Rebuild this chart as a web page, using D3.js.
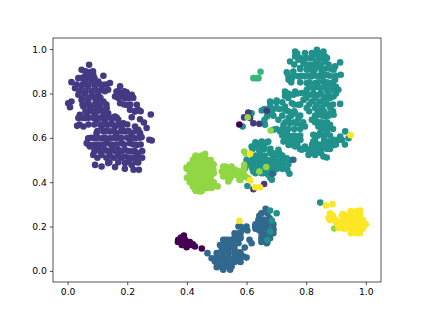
<!DOCTYPE html>
<html>
<head>
<meta charset="utf-8">
<script src="https://cdn.jsdelivr.net/npm/d3@7"></script>
<style>
  body { margin: 0; background: #fff; }
  svg { display: block; }
</style>
</head>
<body>
<svg width="423" height="317"></svg>
<script>
var xTicks = [0, 0.2, 0.4, 0.6, 0.8, 1.0]
var yTicks = [0, 0.2, 0.4, 0.6, 0.8, 1.0]

var indigo = [
  [.072,.929],[.047,.907],[.075,.895],[.058,.877],[.086,.884],
  [.013,.851],[.036,.869],[.058,.854],[.081,.862],[.103,.854],[.120,.880],[.142,.847],[.120,.839],
  [.025,.824],[.047,.832],[.069,.832],[.092,.824],[.114,.817],[.136,.817],[.176,.832],[.164,.809],[.198,.805],[.215,.794],
  [.036,.794],[.058,.802],[.081,.794],[.103,.794],[.159,.786],[.181,.794],[.204,.779],
  [.002,.756],[.013,.764],[.047,.771],[.069,.764],[.097,.764],[.120,.764],[.176,.756],[.198,.749],[.232,.749],
  [.008,.738],[.053,.741],[.075,.734],[.097,.734],[.114,.726],[.131,.734],[.209,.726],[.237,.726],[.226,.719],
  [.041,.704],[.064,.711],[.092,.704],[.120,.704],[.136,.711],[.159,.696],[.215,.693],[.279,.705],
  [.036,.689],[.058,.689],[.097,.681],[.125,.678],[.148,.684],[.170,.681],[.187,.666],[.243,.684],[.256,.669],
  [.032,.654],[.053,.651],[.114,.651],[.136,.659],[.159,.651],[.181,.644],[.226,.651],[.265,.644],[.237,.636],
  [.097,.621],[.120,.629],[.142,.629],[.164,.621],[.192,.629],[.215,.621],[.243,.621],
  [.069,.598],[.092,.598],[.114,.598],[.142,.598],[.164,.598],[.209,.598],[.226,.598],[.248,.603],[.274,.591],[.282,.588],
  [.064,.576],[.086,.568],[.108,.568],[.131,.576],[.153,.568],[.181,.576],[.209,.576],[.232,.568],
  [.075,.561],[.097,.546],[.125,.546],[.148,.546],[.170,.546],[.192,.546],[.215,.538],[.232,.531],
  [.086,.523],[.114,.523],[.142,.519],[.170,.519],[.192,.516],[.215,.508],[.237,.516],
  [.092,.478],[.114,.471],[.136,.486],[.159,.468],[.192,.486],[.215,.478],[.237,.489],[.192,.460],[.221,.456],[.239,.456],
  [.06,.90],[.085,.90],[.045,.87],[.07,.87],[.09,.87],
  [.03,.84],[.05,.84],[.07,.84],[.09,.84],[.11,.84],[.13,.84],
  [.04,.81],[.06,.81],[.08,.81],[.10,.81],[.125,.81],[.17,.81],[.19,.81],
  [.05,.78],[.07,.78],[.09,.78],[.11,.78],[.17,.78],[.19,.78],[.22,.78],
  [.05,.75],[.07,.75],[.09,.75],[.11,.75],[.13,.75],[.19,.75],[.21,.75],
  [.06,.72],[.08,.72],[.10,.72],[.125,.72],[.225,.72],[.245,.72],
  [.05,.69],[.07,.69],[.085,.69],[.11,.69],[.13,.69],[.15,.69],[.165,.69],
  [.04,.66],[.07,.66],[.09,.66],[.11,.66],[.13,.66],[.15,.66],[.17,.66],[.20,.66],
  [.10,.63],[.13,.63],[.155,.63],[.18,.63],[.205,.63],[.23,.63],
  [.08,.60],[.10,.60],[.125,.60],[.155,.60],[.18,.60],[.20,.60],[.24,.60],
  [.07,.57],[.10,.57],[.12,.57],[.145,.57],[.165,.57],[.19,.57],[.22,.57],[.245,.57],
  [.09,.54],[.11,.54],[.135,.54],[.16,.54],[.18,.54],[.205,.54],[.225,.54],[.25,.54],
  [.10,.51],[.13,.51],[.155,.51],[.18,.51],[.205,.51],[.225,.51],[.25,.51],
  [.14,.49],[.17,.49],[.205,.49],[.23,.49]
]

var blue = [
  [.469,.080],[.483,.057],[.664,.280],[.643,.248],[.522,.140],[.539,.140],[.511,.117],[.528,.117],[.550,.117],
  [.517,.095],[.539,.095],[.573,.200],[.590,.188],[.603,.182],[.573,.170],[.579,.147],[.562,.132],[.573,.125],
  [.610,.140],[.617,.125],[.594,.105],[.578,.084],[.567,.065],[.590,.065],[.578,.042],[.494,.042],[.511,.057],
  [.534,.057],[.556,.050],[.500,.017],[.522,.027],[.545,.020],[.522,.005],[.545,.005],[.629,.200],[.645,.208],
  [.662,.215],[.679,.215],[.640,.185],[.662,.192],[.690,.182],[.657,.162],[.679,.147],[.651,.140],[.668,.125],
  [.677,.238],[.657,.230],
  [.53,.14],[.55,.14],[.52,.12],[.54,.12],[.56,.12],[.52,.10],[.54,.10],[.56,.10],
  [.50,.08],[.52,.08],[.54,.08],[.56,.08],[.58,.08],[.50,.06],[.52,.06],[.54,.06],[.56,.06],[.58,.06],[.60,.06],
  [.50,.04],[.52,.04],[.54,.04],[.56,.04],[.58,.04],[.51,.02],[.53,.02],[.55,.02],
  [.58,.20],[.60,.20],[.56,.17],[.58,.17],[.56,.15],[.58,.15],
  [.64,.23],[.66,.23],[.68,.23],[.63,.21],[.65,.21],[.67,.21],[.69,.21],[.63,.19],[.65,.19],[.67,.19],[.69,.19],
  [.65,.17],[.67,.17],[.69,.17],[.65,.15],[.67,.15],[.66,.15],[.65,.13],[.67,.13],[.65,.26],[.67,.26]
]

var purple = [
  [.390,.159],[.371,.140],[.383,.132],[.394,.140],[.383,.117],[.405,.125],[.416,.117],[.399,.107],[.427,.110],[.450,.101],
  [.38,.15],[.37,.13],[.39,.13],[.41,.13],[.39,.12],[.40,.12],[.42,.12]
]

var teal = [
  [.836,.997],[.858,.989],[.819,.982],[.763,.989],[.796,.982],[.841,.967],[.863,.967],[.763,.967],[.746,.944],[.774,.952],
  [.813,.959],[.836,.944],[.863,.944],[.914,.940],[.897,.922],[.791,.937],[.813,.929],[.841,.922],[.875,.914],[.892,.907],
  [.735,.895],[.757,.899],[.780,.914],[.802,.907],[.824,.899],[.852,.899],[.916,.884],[.752,.869],[.774,.877],[.796,.877],
  [.819,.877],[.847,.877],[.869,.884],[.897,.862],[.741,.862],[.802,.847],[.830,.847],[.858,.854],[.880,.839],[.824,.824],
  [.847,.824],[.869,.817],[.892,.817],[.908,.817],[.802,.817],[.763,.809],[.729,.809],[.729,.789],[.757,.794],[.785,.802],
  [.813,.794],[.841,.794],[.863,.786],[.892,.786],[.791,.771],[.819,.764],[.847,.764],[.869,.756],[.914,.753],[.679,.764],
  [.701,.768],[.752,.756],[.774,.749],[.729,.741],[.679,.741],[.701,.734],[.802,.734],[.830,.734],[.852,.734],[.880,.738],
  [.651,.723],[.673,.711],[.729,.726],[.892,.704],[.880,.711],[.685,.711],[.668,.696],[.763,.711],[.741,.689],[.707,.681],
  [.774,.689],[.819,.681],[.841,.704],[.863,.696],[.746,.666],[.768,.666],[.836,.674],[.858,.666],[.662,.659],[.724,.659],
  [.785,.659],[.796,.651],[.841,.651],[.863,.651],[.880,.659],[.713,.629],[.690,.636],[.735,.629],[.847,.621],[.869,.629],
  [.824,.614],[.729,.606],[.752,.606],[.774,.606],[.931,.629],[.914,.606],[.942,.598],[.892,.591],[.651,.583],[.629,.568],
  [.662,.576],[.673,.583],[.724,.583],[.752,.583],[.780,.591],[.824,.583],[.847,.568],[.875,.583],[.908,.591],[.617,.561],
  [.640,.561],[.657,.553],[.645,.538],[.741,.568],[.763,.561],[.707,.546],[.796,.561],[.819,.553],[.841,.546],[.869,.561],
  [.892,.568],[.785,.546],[.813,.531],[.679,.531],[.707,.523],[.623,.516],[.645,.516],[.662,.508],[.735,.508],[.808,.523],
  [.830,.523],[.858,.516],[.869,.511],[.612,.493],[.629,.493],[.651,.486],[.673,.493],[.696,.493],[.718,.493],[.735,.486],
  [.595,.463],[.617,.471],[.640,.471],[.668,.471],[.690,.471],[.707,.463],[.729,.486],[.737,.456],[.744,.438],[.623,.448],
  [.657,.441],[.673,.433],[.685,.411],[.603,.383],[.587,.651],[.617,.711],
  [.701,.260],[.679,.272],[.679,.177],[.685,.227],[.670,.140],[.847,.308],
  [.83,.98],[.85,.98],[.77,.98],[.82,.96],[.85,.96],[.87,.96],[.78,.96],[.80,.96],
  [.76,.93],[.80,.93],[.825,.93],[.85,.93],[.875,.93],[.78,.91],[.81,.91],[.83,.91],[.86,.91],[.885,.91],
  [.74,.88],[.76,.88],[.785,.88],[.81,.88],[.835,.88],[.86,.88],[.88,.88],[.90,.88],
  [.75,.85],[.78,.85],[.81,.85],[.84,.85],[.87,.85],[.89,.85],[.81,.83],[.835,.83],[.86,.83],[.885,.83],[.90,.83],
  [.74,.80],[.77,.80],[.80,.80],[.825,.80],[.85,.80],[.875,.80],[.90,.80],[.74,.78],[.80,.78],[.83,.78],[.86,.78],[.88,.78],
  [.76,.75],[.78,.75],[.81,.75],[.835,.75],[.86,.75],[.89,.75],[.74,.72],[.76,.72],[.81,.72],[.84,.72],[.86,.72],[.89,.72],
  [.72,.70],[.75,.70],[.78,.70],[.83,.70],[.855,.70],[.875,.70],[.73,.67],[.76,.67],[.79,.67],[.83,.67],[.85,.67],[.87,.67],
  [.70,.64],[.72,.64],[.74,.64],[.76,.64],[.78,.64],[.85,.64],[.87,.64],[.89,.64],
  [.72,.61],[.74,.61],[.76,.61],[.78,.61],[.84,.61],[.86,.61],[.88,.61],
  [.74,.59],[.76,.59],[.78,.59],[.83,.59],[.86,.59],[.90,.59],[.92,.59],
  [.75,.57],[.77,.57],[.82,.57],[.84,.57],[.86,.57],[.88,.57],[.90,.57],[.93,.57],
  [.78,.55],[.80,.55],[.83,.55],[.85,.55],[.87,.55],[.88,.55],[.81,.53],[.83,.53],[.85,.53],
  [.65,.58],[.67,.58],[.63,.58],[.62,.55],[.64,.55],[.66,.55],[.68,.55],[.69,.53],[.71,.53],
  [.63,.52],[.66,.52],[.69,.52],[.72,.52],[.60,.50],[.62,.50],[.64,.50],[.66,.50],[.68,.50],[.70,.50],[.72,.50],[.75,.50],
  [.60,.48],[.62,.48],[.64,.48],[.66,.48],[.68,.48],[.70,.48],[.72,.48],[.74,.48],
  [.62,.46],[.64,.46],[.66,.46],[.68,.46],[.70,.46],[.72,.46],[.63,.44],[.65,.44],[.67,.44],[.69,.44],[.68,.42],
  [.68,.76],[.70,.76],[.72,.76],[.66,.73],[.69,.73],[.71,.73],[.67,.70],[.69,.70],[.66,.68]
]

var green = [[.623,.869],[.632,.869],[.640,.869],[.647,.898]]

var lime = [
  [.427,.513],[.461,.528],[.438,.501],[.422,.493],[.399,.466],[.466,.501],[.483,.486],[.444,.471],[.422,.463],[.416,.441],
  [.466,.463],[.489,.456],[.444,.441],[.411,.418],[.433,.411],[.461,.426],[.483,.433],[.422,.388],[.450,.388],[.472,.396],
  [.444,.358],[.427,.368],[.466,.374],[.483,.374],[.503,.381],[.522,.471],[.539,.463],[.517,.448],[.562,.456],[.534,.441],
  [.556,.433],[.584,.448],[.539,.403],[.545,.418],[.522,.426],[.578,.426],[.595,.426],[.576,.411],[.606,.418],[.592,.478],
  [.592,.463],[.604,.693],[.681,.633],[.592,.538],[.598,.528],[.666,.468],[.643,.448],[.894,.191],
  [.43,.52],[.45,.52],[.46,.52],[.42,.50],[.44,.50],[.46,.50],[.48,.50],[.41,.48],[.43,.48],[.45,.48],[.47,.48],[.49,.48],
  [.40,.46],[.42,.46],[.44,.46],[.46,.46],[.48,.46],[.41,.44],[.43,.44],[.45,.44],[.47,.44],[.49,.44],
  [.40,.42],[.42,.42],[.44,.42],[.46,.42],[.48,.42],[.41,.40],[.43,.40],[.45,.40],[.47,.40],[.49,.40],
  [.42,.38],[.44,.38],[.46,.38],[.48,.38],[.43,.36],[.45,.36],
  [.53,.47],[.55,.47],[.53,.45],[.55,.45],[.57,.45],[.59,.45],[.53,.43],[.55,.43],[.57,.43],[.59,.43],[.54,.41],[.58,.41]
]

var yellow = [
  [.612,.528],[.949,.612],[.612,.408],[.629,.377],[.645,.377],[.576,.226],[.866,.295],[.888,.301],[.880,.260],[.886,.238],
  [.923,.257],[.953,.263],[.981,.272],[.875,.238],[.919,.223],[.953,.238],[.981,.238],[.903,.215],[.925,.192],[.953,.208],
  [.981,.208],[.998,.208],[.909,.192],[.953,.177],[.981,.185],
  [.95,.27],[.97,.27],[.98,.27],[.88,.25],[.89,.25],[.92,.25],[.94,.25],[.96,.25],[.98,.25],
  [.88,.23],[.90,.23],[.93,.23],[.95,.23],[.97,.23],[.99,.23],[.90,.22],[.92,.22],
  [.92,.21],[.94,.21],[.96,.21],[.98,.21],[1.0,.21],[.93,.19],[.95,.19],[.97,.19],[.99,.19],[.95,.17],[.97,.17],[.98,.17]
]

var extraIndigo = [[.606,.714],[.592,.692],[.612,.689],[.623,.666],[.643,.663],[.668,.722],[.623,.368],[.659,.392]]
var extraPurple = [[.576,.660]]
var extraBlue = [[.757,.501],[.687,.438]]

// drawn in this order, later ones sit on top
var layers = [
  {color: "#443983", points: indigo},
  {color: "#31688e", points: blue},
  {color: "#440154", points: purple},
  {color: "#21918c", points: teal},
  {color: "#35b779", points: green},
  {color: "#443983", points: extraIndigo},
  {color: "#440154", points: extraPurple},
  {color: "#31688e", points: extraBlue},
  {color: "#90d743", points: lime},
  {color: "#fde725", points: yellow}
]

var svg = d3.select("svg")

var margin = ({top: 38, right: 42, bottom: 35, left: 53})
var width = 423
var height = 317

var x = d3.scaleLinear()
    .domain([-0.049, 1.051])
    .range([margin.left, width - margin.right])

var y = d3.scaleLinear()
    .domain([-0.05, 1.05])
    .range([height - margin.bottom, margin.top])

var groups = svg.append("g").selectAll("g")
    .data(layers)
    .enter().append("g")
    .attr("fill", d => d.color)

groups.selectAll("circle")
    .data(d => d.points)
    .enter().append("circle")
    .attr("cx", d => x(d[0]))
    .attr("cy", d => y(d[1]))
    .attr("r", 3.3)

var xAxis = g => g
    .attr("transform", `translate(0,${height - margin.bottom})`)
    .call(d3.axisBottom(x).tickValues(xTicks).tickFormat(d3.format(".1f")).tickSize(3.2).tickSizeOuter(0).tickPadding(3))

var yAxis = g => g
    .attr("transform", `translate(${margin.left},0)`)
    .call(d3.axisLeft(y).tickValues(yTicks).tickFormat(d3.format(".1f")).tickSize(3.2).tickSizeOuter(0).tickPadding(3))

svg.append("g").call(xAxis)
svg.append("g").call(yAxis)

svg.selectAll(".tick text")
    .attr("font-family", "DejaVu Sans")
    .attr("font-size", "9.2px")
    .attr("fill", "#000")

svg.selectAll(".tick line").attr("stroke-width", 0.67)
svg.selectAll(".domain").remove()

// box around the plot
svg.append("rect")
    .attr("x", margin.left)
    .attr("y", margin.top)
    .attr("width", width - margin.left - margin.right)
    .attr("height", height - margin.top - margin.bottom)
    .attr("fill", "none")
    .attr("stroke", "#000")
    .attr("stroke-width", 0.67)
</script>
</body>
</html>
